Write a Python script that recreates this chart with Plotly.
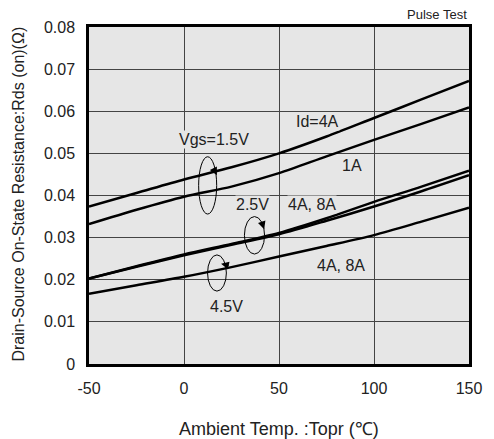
import plotly.graph_objects as go

# Data
temp = [-50, -25, 0, 25, 50, 75, 100, 125, 150]
vgs15_4a = [0.0374, 0.0406, 0.0438, 0.0467, 0.0500, 0.0540, 0.0584, 0.0628, 0.0672]
vgs15_1a = [0.0332, 0.0366, 0.0397, 0.0421, 0.0453, 0.0493, 0.0532, 0.0570, 0.0609]
vgs25_4a = [0.0203, 0.0232, 0.0260, 0.0285, 0.0311, 0.0346, 0.0385, 0.0421, 0.0459]
vgs25_8a = [0.0203, 0.0231, 0.0258, 0.0283, 0.0308, 0.0340, 0.0374, 0.0410, 0.0448]
vgs45 = [0.0167, 0.0187, 0.0207, 0.0230, 0.0255, 0.0280, 0.0306, 0.0338, 0.0371]

x_ticks = [-50, 0, 50, 100, 150]
x_ticktext = ["-50", "0", "50", "100", "150"]
y_ticks = [0, 0.01, 0.02, 0.03, 0.04, 0.05, 0.06, 0.07, 0.08]
y_ticktext = ["0", "0.01", "0.02", "0.03", "0.04", "0.05", "0.06", "0.07", "0.08"]

FONT = "Liberation Sans, Arial, sans-serif"
BG = "#e6e6e6"

fig = go.Figure()
for ys in [vgs15_4a, vgs15_1a, vgs25_4a, vgs25_8a, vgs45]:
    fig.add_trace(go.Scatter(x=temp, y=ys, mode="lines",
                             line=dict(color="black", width=2.5, shape="spline", smoothing=0.8),
                             showlegend=False, hoverinfo="skip"))

labels = [
    ("Id=4A", 70.3, 0.0575),
    ("Vgs=1.5V", 15.9, 0.0532),
    ("1A", 88.3, 0.0471),
    ("2.5V", 36.1, 0.0378),
    ("4A, 8A", 67.4, 0.0378),
    ("4A, 8A", 82.5, 0.0235),
    ("4.5V", 22.3, 0.0136),
]
annotations = []
for t, x, y in labels:
    annotations.append(dict(text=t, x=x, y=y, xref="x", yref="y", showarrow=False,
                            font=dict(family=FONT, size=16, color="#222"),
                            bgcolor=BG, borderpad=0, xanchor="center", yanchor="middle"))

# loops with arrowheads
loops = [
    (7.7, 17.2, 0.0356, 0.0492),
    (31.8, 42.4, 0.0261, 0.0350),
    (12.4, 22.3, 0.0173, 0.0259),
]
shapes = []
for x0, x1, y0, y1 in loops:
    shapes.append(dict(type="circle", xref="x", yref="y", x0=x0, x1=x1, y0=y0, y1=y1,
                       line=dict(color="black", width=1)))
heads = [(17.3, 0.0448, -4, -8), (42.2, 0.0320, -3, -9), (19.5, 0.0238, 9, 2)]
for x, y, ax, ay in heads:
    annotations.append(dict(x=x, y=y, xref="x", yref="y", ax=ax, ay=ay, text="",
                            showarrow=True, arrowhead=2, arrowsize=1.2, arrowwidth=1.3,
                            arrowcolor="black"))

annotations += [
    dict(text="Pulse Test", x=1.0, y=1.036, xref="paper", yref="paper", showarrow=False,
         xanchor="right", yanchor="middle", font=dict(family=FONT, size=13, color="#222")),
    dict(text="Ambient Temp. :Topr (℃)", x=0.5, y=-0.193, xref="paper", yref="paper",
         showarrow=False, xanchor="center", yanchor="middle",
         font=dict(family=FONT, size=18, color="#222")),
    dict(text="Drain-Source On-State Resistance:Rds (on)(Ω)", x=-0.185, y=0.505,
         xref="paper", yref="paper", showarrow=False, textangle=-90,
         xanchor="center", yanchor="middle", font=dict(family=FONT, size=16, color="#222")),
]

fig.update_layout(
    width=494, height=439,
    margin=dict(l=89, r=17, t=27, b=75),
    paper_bgcolor="white", plot_bgcolor=BG,
    font=dict(family=FONT, size=16, color="#222"),
    annotations=annotations, shapes=shapes,
    xaxis=dict(range=[-50, 150], tickvals=x_ticks, ticktext=x_ticktext,
               showgrid=True, gridcolor="#444", gridwidth=1.2, zeroline=False,
               showline=True, linecolor="black", linewidth=2.5, mirror=True,
               ticks="", ticklabelstandoff=8, tickfont=dict(size=16)),
    yaxis=dict(range=[0, 0.08], tickvals=y_ticks, ticktext=y_ticktext,
               showgrid=True, gridcolor="#444", gridwidth=1.2, zeroline=False,
               showline=True, linecolor="black", linewidth=2.5, mirror=True,
               ticks="", ticklabelstandoff=8, tickfont=dict(size=16)),
)

fig.write_html("out.html")
